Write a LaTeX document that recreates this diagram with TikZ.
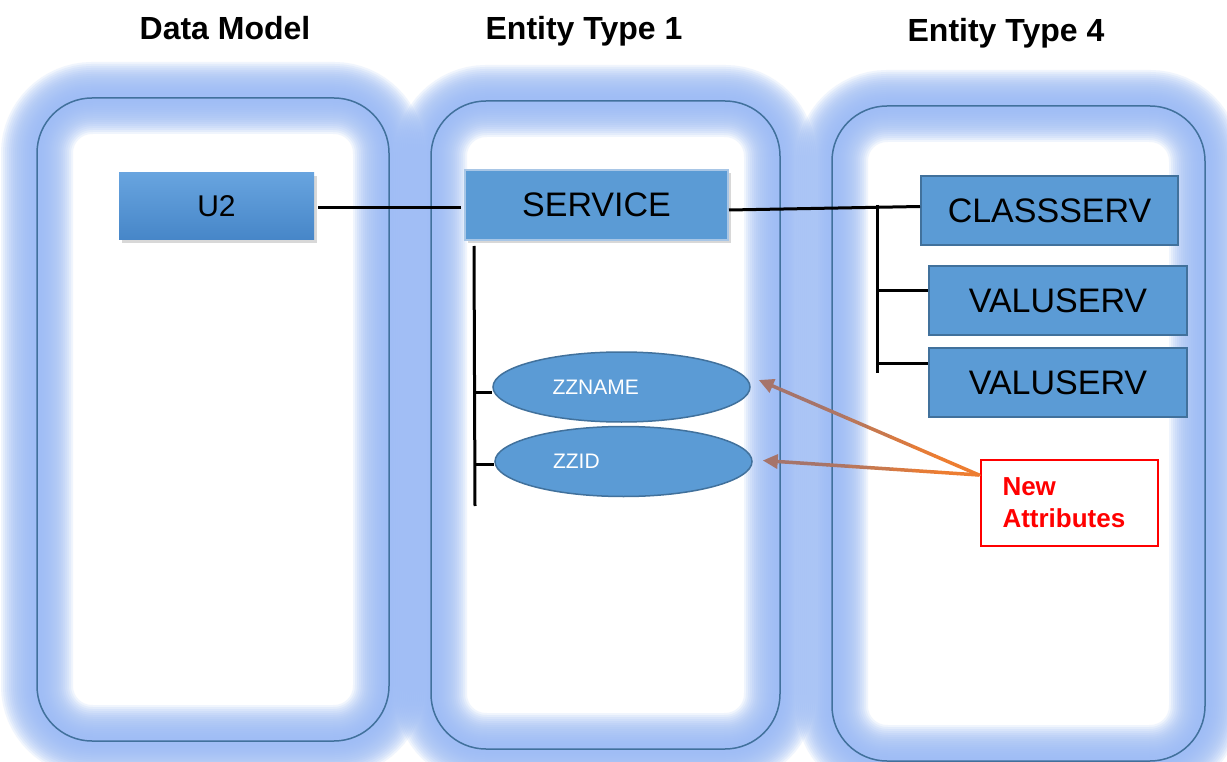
\documentclass[tikz,border=0pt]{standalone}
\usepackage{fontspec}
\setmainfont{Liberation Sans}
\usepackage{tikz}
\usetikzlibrary{calc}
\usetikzlibrary{arrows.meta}
\usetikzlibrary{shapes.geometric}
\usetikzlibrary{shadows}
\definecolor{glowblue}{HTML}{9DBCF5}
\definecolor{rimblue}{HTML}{41719C}
\definecolor{boxblue}{HTML}{5B9BD5}
\definecolor{boxtop}{HTML}{68A4DF}
\definecolor{boxbot}{HTML}{4686C8}
\definecolor{servrim}{HTML}{A8C6E6}
\definecolor{arrorange}{HTML}{ED7D31}
\definecolor{arrbrown}{HTML}{A6746A}
\tikzset{title/.style={font=\fontsize{32}{36}\selectfont\bfseries,anchor=base,inner sep=0pt}}
\tikzset{lane/.style={rounded corners=55pt,draw=rimblue,line width=1.5pt}}
\tikzset{glow/.style={rounded corners=55pt,draw=glowblue}}
\tikzset{link/.style={draw=black,line width=3pt}}
\tikzset{attrline/.style={line width=3.5pt,line cap=round}}

\begin{document}
\begin{tikzpicture}[x=1pt,y=-1pt]
  % some styles
  \tikzset{
    entity/.style={
      rectangle,
      minimum width=258pt,
      minimum height=69pt,
      inner sep=0pt,
      fill=boxblue,
      draw=rimblue,
      line width=2pt,
      font=\fontsize{34}{40}\selectfont
    }
  }
  \tikzset{
    srcbox/.style={
      rectangle,
      minimum width=195pt,
      minimum height=67pt,
      inner sep=0pt,
      top color=boxtop,
      bottom color=boxbot,
      drop shadow={shadow xshift=3pt,shadow yshift=-3pt,opacity=0.3},
      font=\fontsize{30}{36}\selectfont
    }
  }
  \tikzset{
    mainbox/.style={
      rectangle,
      minimum width=263pt,
      minimum height=70pt,
      inner sep=0pt,
      fill=boxblue,
      draw=servrim,
      line width=2pt,
      drop shadow={shadow xshift=3pt,shadow yshift=-3pt,opacity=0.3},
      font=\fontsize{34}{40}\selectfont
    }
  }
  \tikzset{
    attr/.style={
      ellipse,
      minimum width=257pt,
      minimum height=70pt,
      inner sep=0pt,
      fill=boxblue,
      draw=rimblue,
      line width=1.5pt,
      text=white,
      font=\fontsize{21}{25}\selectfont
    }
  }
  \tikzset{
    note/.style={
      rectangle,
      minimum width=177pt,
      minimum height=86pt,
      inner sep=0pt,
      fill=white,
      draw=red,
      line width=2pt,
      text=red,
      align=left,
      text width=134pt,
      font=\fontsize{26}{32}\selectfont\bfseries
    }
  }

\fill[white] (0,0) rectangle (1227,762);
\useasboundingbox (0,0) rectangle (1227,762);

% lanes
\foreach \xa/\ya/\xb/\yb in {37/98/389/741, 431/101/780/749, 832/106/1205/761} {
    \foreach \w in {72,68,...,8}
        \draw[glow, line width=\w pt, draw opacity=0.15] (\xa,\ya) rectangle (\xb,\yb);
    \draw[lane] (\xa,\ya) rectangle (\xb,\yb);
}

\node[title] (tDM) at (225,40) {Data Model};
\node[title] (tET1) at (584,40) {Entity Type 1};
\node[title] (tET4) at (1006,42) {Entity Type 4};

\node[srcbox] (U2) at (216.5,206.5) {U2};
\node[mainbox] (SERV) at (596.5,205) {SERVICE};
\node[entity, minimum width=257pt] (CLS) at (1049.5,210.5) {CLASSSERV};
\node[entity] (VAL1) at (1058,300.5) {VALUSERV};
\node[entity] (VAL2) at (1058,382.5) {VALUSERV};
\node[attr] (ZN) at (621.5,387) {\makebox[138pt][l]{ZZNAME}};
\node[attr] (ZI) at (623.5,461.5) {\makebox[141pt][l]{ZZID}};
\node[note] (NA) at (1069.5,503) {New\\Attributes};

\coordinate (u2out) at ($(U2.east)+(0,1.5)$);
\coordinate (sIn) at ($(SERV.west)+(0,3)$);
\coordinate (sOut) at ($(SERV.east)+(0,5)$);
\coordinate (cIn) at ($(CLS.west)+(0,-4)$);
\draw[link, shorten <=4pt, shorten >=3pt] (u2out) -- (sIn);
\draw[link] (sOut) -- (cIn);

\coordinate (busT) at (877,205);
\coordinate (busB) at (877,373);
\coordinate (v1in) at ($(VAL1.west)+(0,-10)$);
\coordinate (v2in) at ($(VAL2.west)+(0,-19)$);
\draw[link] (busT) -- (busB);
\draw[link] (busT |- v1in) -- (v1in);
\draw[link] (busT |- v2in) -- (v2in);

\coordinate (attT) at ($(SERV.south west)+(10,5)$);
\coordinate (attB) at (475,506);
\coordinate (znin) at ($(ZN.west)+(0,5)$);
\coordinate (ziin) at ($(ZI.west)+(0,3)$);
\draw[link] (attT) -- (attB);
\draw[link] (attT |- znin) -- (znin);
\draw[link] (attT |- ziin) -- (ziin);

% arrows to the new attributes
\coordinate (NAsrc) at ($(NA.west)+(-1,-28)$);
\coordinate (tipN) at ($(ZN.east)+(8,-7)$);
\coordinate (tipI) at ($(ZI.east)+(10,-1)$);
\foreach \tip in {tipN,tipI} {
    \foreach \i in {1,...,9} {
        \pgfmathtruncatemacro{\p}{max(0,min(100,(7.5-\i)*20))}
        \colorlet{segcol}{arrbrown!\p!arrorange}
        \draw[attrline, segcol] ($(\tip)!\i/10!(NAsrc)$) -- ($(\tip)!\i/10+0.1!(NAsrc)$);
    }
    \draw[line width=3.5pt, arrbrown, -{Triangle[length=15pt,width=14pt]}] ($(\tip)!0.1!(NAsrc)$) -- (\tip);
}
\end{tikzpicture}
\end{document}
